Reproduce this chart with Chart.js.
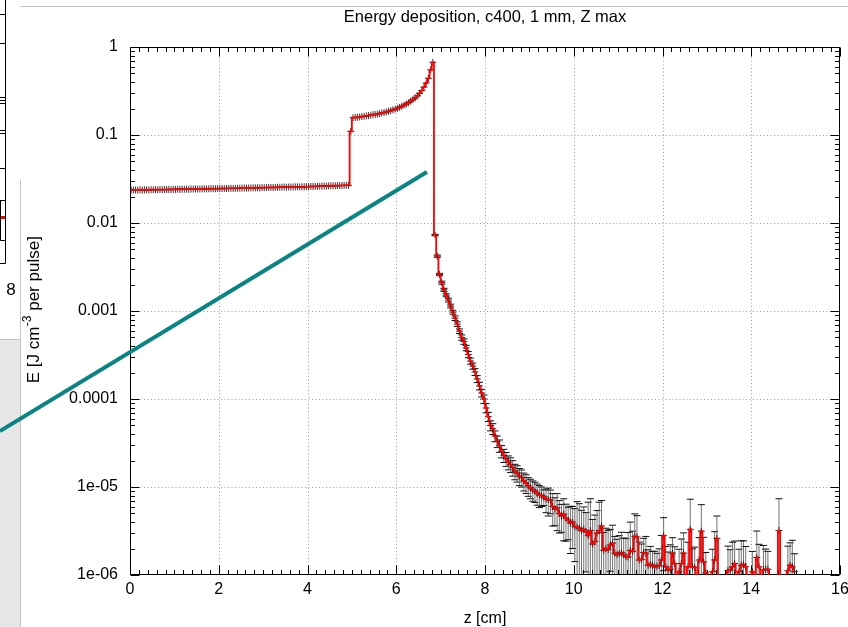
<!DOCTYPE html>
<html><head><meta charset="utf-8">
<script src="https://cdn.jsdelivr.net/npm/chart.js@4.4.1/dist/chart.umd.min.js"></script>
<style>html,body{margin:0;padding:0;background:#fff;}#wrap{width:848px;height:627px;}</style>
</head><body><div id="wrap"><canvas id="c" width="848" height="627"></canvas></div>
<script>
const chartTitle = 'Energy deposition, c400, 1 mm, Z max';
const xTitle = 'z [cm]';
const yTitleMain = 'E [J cm';
const yTitleSup = '-3';
const yTitleEnd = ' per pulse]';
const binWidth = 0.05;
const xTicks = [0, 2, 4, 6, 8, 10, 12, 14, 16];
const yTicks = [1e-6, 1e-5, 1e-4, 1e-3, 1e-2, 1e-1, 1];
const yTickLabels = ['1e-06', '1e-05', '0.0001', '0.001', '0.01', '0.1', '1'];

// bins 0 .. 4.95 cm
const energyFlat = [
  0.0236,0.0237,0.0237,0.0236,0.0238,0.0237,0.0238,0.0238,0.0237,0.0239,
  0.0238,0.0239,0.0239,0.0240,0.0239,0.0240,0.0240,0.0241,0.0240,0.0241,
  0.0241,0.0242,0.0241,0.0242,0.0242,0.0243,0.0242,0.0243,0.0243,0.0244,
  0.0243,0.0244,0.0244,0.0245,0.0244,0.0245,0.0245,0.0246,0.0245,0.0246,
  0.0246,0.0247,0.0246,0.0247,0.0247,0.0248,0.0247,0.0248,0.0248,0.0249,
  0.0249,0.0250,0.0249,0.0250,0.0250,0.0251,0.0251,0.0252,0.0251,0.0252,
  0.0252,0.0253,0.0253,0.0254,0.0253,0.0254,0.0254,0.0255,0.0255,0.0256,
  0.0255,0.0256,0.0256,0.0257,0.0257,0.0258,0.0257,0.0258,0.0258,0.0259,
  0.0259,0.0260,0.0260,0.0261,0.0261,0.0262,0.0262,0.0263,0.0263,0.0264,
  0.0264,0.0265,0.0265,0.0266,0.0266,0.0267,0.0267,0.0268,0.0268
];
// bins 4.95 .. 6.85 cm
const energyPeak = [
  0.110,
  0.157,0.158,0.159,0.160,0.162,0.163,0.165,0.166,0.168,0.170,
  0.171,0.173,0.175,0.178,0.180,0.183,0.186,0.189,0.193,0.197,
  0.201,0.206,0.212,0.218,0.225,0.233,0.242,0.252,0.264,0.279,
  0.297,0.320,0.350,0.390,0.440,0.550,0.670
];
// bins 6.85 .. 9.25 cm
const energyFall = [
  0.0073,0.0042,0.0026,0.0021,0.00174,0.00151,0.00133,0.00114,0.00097,0.00083,
  0.00071,0.00059,0.00050,0.00045,0.00038,0.00032,0.00027,0.000237,0.000203,0.000169,
  0.000141,0.000117,0.000100,7.9e-5,6.3e-5,5.0e-5,4.6e-5,3.8e-5,3.3e-5,2.95e-5,
  2.55e-5,2.29e-5,2.09e-5,1.91e-5,1.80e-5,1.66e-5,1.51e-5,1.44e-5,1.33e-5,1.28e-5,
  1.17e-5,1.11e-5,1.03e-5,9.8e-6,9.3e-6,9.0e-6,8.5e-6,8.1e-6
];
// bins 9.25 .. 15 cm
const energyTail = [
  8.0e-6,7.7e-6,7.3e-6,7.2e-6,7.1e-6,6.0e-6,5.6e-6,5.8e-6,5.0e-6,4.7e-6,4.9e-6,4.4e-6,4.2e-6,3.9e-6,4.0e-6,
  3.55e-6,3.5e-6,3.4e-6,3.2e-6,3.3e-6,3.1e-6,2.8e-6,3.2e-6,2.25e-6,2.4e-6,3.0e-6,3.2e-6,3.6e-6,1.9e-6,2.0e-6,
  1.95e-6,2.2e-6,2.3e-6,1.77e-6,1.7e-6,1.75e-6,1.8e-6,1.7e-6,1.62e-6,1.6e-6,1.9e-6,1.85e-6,2.75e-6,2.7e-6,1.48e-6,
  1.5e-6,1.8e-6,1.77e-6,1.29e-6,1.32e-6,1.28e-6,1.24e-6,1.26e-6,1.28e-6,1.48e-6,2.8e-6,1.24e-6,1.14e-6,1.16e-6,1.77e-6,
  1.35e-6,5e-7,1.09e-6,1.35e-6,1.77e-6,5e-7,1.24e-6,3.3e-6,1.24e-6,1.22e-6,5e-7,1.48e-6,3.15e-6,1.41e-6,1.06e-6,
  5e-7,5e-7,1.09e-6,1.48e-6,2.6e-6,5e-7,5e-7,5e-7,5e-7,1.12e-6,1.14e-6,1.24e-6,1.35e-6,5e-7,1.09e-6,
  1.29e-6,1.32e-6,1.24e-6,5e-7,5e-7,1.09e-6,5e-7,1.58e-6,1.24e-6,5e-7,1.14e-6,1.16e-6,1.16e-6,5e-7,5e-7,
  5e-7,5e-7,3.2e-6,5e-7,5e-7,5e-7,1.12e-6,1.29e-6,1.24e-6,1.09e-6
];
// relative errors for the falling part and the tail
const errRelFall = [
  0.02,0.03,0.03,0.04,0.04,0.04,0.05,0.05,0.05,0.06,
  0.06,0.06,0.07,0.07,0.07,0.08,0.08,0.08,0.09,0.09,
  0.10,0.10,0.11,0.12,0.12,0.13,0.14,0.14,0.15,0.16,
  0.16,0.17,0.18,0.18,0.19,0.20,0.20,0.21,0.22,0.22,
  0.23,0.24,0.24,0.25,0.26,0.26,0.27,0.28
];
const errRelTail = [
  0.25,0.20,0.30,0.35,0.30,0.40,0.35,0.45,0.40,0.35,0.50,0.45,0.40,0.55,0.50,
  0.60,0.95,0.90,0.70,0.80,0.65,1.40,1.30,0.90,1.00,0.80,1.10,0.95,0.60,0.70,
  0.65,0.50,0.60,0.55,0.50,0.60,0.70,0.55,0.60,0.90,1.10,0.70,0.80,0.75,0.60,
  0.50,0.45,0.55,0.50,0.60,0.45,0.50,0.40,0.55,0.90,0.60,0.70,0.60,0.90,0.50,
  0.55,0,0.80,0.90,0.70,0,0.90,1.20,0.60,0.70,0,0.80,1.00,0.90,0.70,
  0,0,0.80,1.10,0.80,0,0,0,0,0.90,0.70,0.90,0.80,0,0.80,
  0.90,0.85,0.70,0,0,0.70,0,1.00,0.80,0,0.90,0.70,0.60,0,0,
  0,0,1.30,0,0,0,0.90,0.80,1.00,0.60
];
const tealLine = [{x: -2.93, y: 4.33e-5}, {x: 6.69, y: 0.038}];

const energy = energyFlat.concat(energyPeak, energyFall, energyTail);
const binCenters = energy.map((_, i) => (i + 0.5) * binWidth);
const histPoints = energy.map((v, i) => ({x: binCenters[i], y: v}));
const errStart = energyFlat.length + energyPeak.length;
const errRel = errRelFall.concat(errRelTail);

const FONT = "'Liberation Sans', Arial, Helvetica, sans-serif";

const deco = {
  id: 'deco',
  beforeDraw(chart) {
    const ctx = chart.ctx;
    ctx.save();
    ctx.fillStyle = '#ffffff';
    ctx.fillRect(0, 0, chart.width, chart.height);
    // neighbouring window fragments
    ctx.fillStyle = '#e7e7e7';
    ctx.fillRect(0, 340, 20, 287);
    ctx.strokeStyle = '#c4c4c4';
    ctx.lineWidth = 1;
    ctx.beginPath();
    ctx.moveTo(20.5, 180); ctx.lineTo(20.5, 627);
    ctx.moveTo(20, 6.5); ctx.lineTo(848, 6.5);
    ctx.moveTo(0, 339.5); ctx.lineTo(20, 339.5);
    ctx.stroke();
    ctx.strokeStyle = '#000';
    ctx.beginPath();
    ctx.moveTo(5.5, 0); ctx.lineTo(5.5, 263.5); ctx.lineTo(0, 263.5);
    [14, 43, 97, 100, 103, 130, 133, 168, 200].forEach(t => { ctx.moveTo(0, t + 0.5); ctx.lineTo(5.5, t + 0.5); });
    ctx.rect(0.5, 200.5, 5, 40);
    ctx.stroke();
    ctx.fillStyle = '#e00';
    ctx.fillRect(1, 216, 4, 3);
    ctx.fillStyle = '#000';
    ctx.font = '17px ' + FONT;
    ctx.textAlign = 'center';
    ctx.textBaseline = 'middle';
    ctx.fillText('8', 11, 290);
    ctx.restore();
  },
  beforeDatasetsDraw(chart) {
    const ctx = chart.ctx;
    const a = chart.chartArea;
    const xs = chart.scales.x, ys = chart.scales.y;
    ctx.save();
    // dotted grid
    ctx.strokeStyle = '#9a9a9a';
    ctx.lineWidth = 1;
    ctx.setLineDash([1, 2.5]);
    ctx.beginPath();
    xTicks.forEach(v => {
      const px = Math.round(xs.getPixelForValue(v)) + 0.5;
      if (px > a.left + 2 && px < a.right - 2) { ctx.moveTo(px, a.top); ctx.lineTo(px, a.bottom); }
    });
    yTicks.forEach(v => {
      const py = Math.round(ys.getPixelForValue(v)) + 0.5;
      if (py > a.top + 2 && py < a.bottom - 2) { ctx.moveTo(a.left, py); ctx.lineTo(a.right, py); }
    });
    ctx.stroke();
    ctx.setLineDash([]);
    // error bars
    ctx.save();
    ctx.beginPath();
    ctx.rect(a.left, a.top, a.right - a.left, a.bottom - a.top);
    ctx.clip();
    for (let k = 0; k < errRel.length; k++) {
      const i = errStart + k;
      const v = energy[i], r = errRel[k];
      if (!r || v < 1e-6) continue;
      const px = xs.getPixelForValue(binCenters[i]);
      const pt = ys.getPixelForValue(v * (1 + r));
      const lo = v * (1 - r);
      const pb = lo > 0 ? ys.getPixelForValue(lo) : a.bottom + 10;
      ctx.strokeStyle = 'rgba(90,90,90,0.85)';
      ctx.lineWidth = 1;
      ctx.beginPath();
      ctx.moveTo(px, pt); ctx.lineTo(px, pb);
      ctx.stroke();
      ctx.strokeStyle = '#111';
      ctx.beginPath();
      ctx.moveTo(px - 3.5, pt); ctx.lineTo(px + 3.5, pt);
      ctx.moveTo(px - 3.5, pb); ctx.lineTo(px + 3.5, pb);
      ctx.stroke();
    }
    ctx.restore();
    // border and inward ticks
    ctx.strokeStyle = '#000';
    ctx.lineWidth = 1;
    const L = Math.round(a.left) + 0.5, R = Math.round(a.right) - 0.5;
    const T = Math.round(a.top) + 0.5, B = Math.round(a.bottom) - 0.5;
    ctx.beginPath();
    ctx.rect(L, T, R - L, B - T);
    for (let k = 0; k <= 80; k++) {
      const px = Math.round(xs.getPixelForValue(k * 0.2)) + 0.5;
      const len = (k % 10 === 0) ? 9 : 4.5;
      ctx.moveTo(px, B); ctx.lineTo(px, B - len);
      ctx.moveTo(px, T); ctx.lineTo(px, T + len);
    }
    for (let d = -6; d <= 0; d++) {
      for (let m = 1; m <= 9; m++) {
        if (d === 0 && m > 1) break;
        const py = Math.round(ys.getPixelForValue(m * Math.pow(10, d))) + 0.5;
        const len = (m === 1) ? 9 : 4.5;
        ctx.moveTo(L, py); ctx.lineTo(L + len, py);
        ctx.moveTo(R, py); ctx.lineTo(R - len, py);
      }
    }
    ctx.stroke();
    // titles
    ctx.fillStyle = '#000';
    ctx.textAlign = 'center';
    ctx.textBaseline = 'middle';
    ctx.font = '16.5px ' + FONT;
    ctx.fillText(chartTitle, (a.left + a.right) / 2, 17);
    ctx.font = '16px ' + FONT;
    ctx.fillText(xTitle, (a.left + a.right) / 2, 619);
    // y title with superscript
    ctx.save();
    ctx.translate(34, 310);
    ctx.rotate(-Math.PI / 2);
    const fMain = '17px ' + FONT, fSup = '12px ' + FONT;
    ctx.font = fMain; const w1 = ctx.measureText(yTitleMain).width; const w3 = ctx.measureText(yTitleEnd).width;
    ctx.font = fSup; const w2 = ctx.measureText(yTitleSup).width;
    let x0 = -(w1 + w2 + w3) / 2;
    ctx.textAlign = 'left';
    ctx.font = fMain; ctx.fillText(yTitleMain, x0, 0);
    ctx.font = fSup; ctx.fillText(yTitleSup, x0 + w1 + 0.5, -6);
    ctx.font = fMain; ctx.fillText(yTitleEnd, x0 + w1 + w2 + 0.5, 0);
    ctx.restore();
    ctx.restore();
  }
};

new Chart(document.getElementById('c'), {
  type: 'line',
  data: {
    datasets: [
      { data: tealLine, borderColor: '#0b8582', borderWidth: 4, pointRadius: 0, clip: false, order: 0, borderCapStyle: 'butt' },
      { data: histPoints, borderColor: '#ff0000', borderWidth: 1.8, stepped: 'middle', pointRadius: 0, order: 1 },
      { data: histPoints, showLine: false, pointStyle: 'cross', pointRadius: 3.5, pointBorderColor: 'rgba(20,20,20,0.85)', pointBorderWidth: 1, order: 2 }
    ]
  },
  options: {
    responsive: false,
    animation: false,
    devicePixelRatio: 1,
    events: [],
    layout: { padding: { top: 47, right: 8, bottom: 0, left: 0 } },
    plugins: { legend: { display: false }, title: { display: false }, tooltip: { enabled: false } },
    scales: {
      x: {
        type: 'linear', min: 0, max: 16,
        grid: { display: false, drawTicks: false, tickLength: 0 },
        border: { display: false },
        ticks: { padding: 5, color: '#000', font: { family: FONT, size: 16 }, maxRotation: 0, autoSkip: false, callback: v => String(v) },
        afterBuildTicks: s => { s.ticks = xTicks.map(v => ({ value: v })); },
        afterFit: s => { s.height = 52; s.paddingLeft = 0; s.paddingRight = 0; }
      },
      y: {
        type: 'logarithmic', min: 1e-6, max: 1,
        grid: { display: false, drawTicks: false, tickLength: 0 },
        border: { display: false },
        ticks: { padding: 12, color: '#000', font: { family: FONT, size: 16 }, autoSkip: false,
          callback: v => { const k = yTicks.indexOf(v); return k >= 0 ? yTickLabels[k] : ''; } },
        afterBuildTicks: s => { s.ticks = yTicks.map(v => ({ value: v })); },
        afterFit: s => { s.width = 130; s.paddingTop = 0; s.paddingBottom = 0; }
      }
    }
  },
  plugins: [deco]
});
</script>
</body></html>
